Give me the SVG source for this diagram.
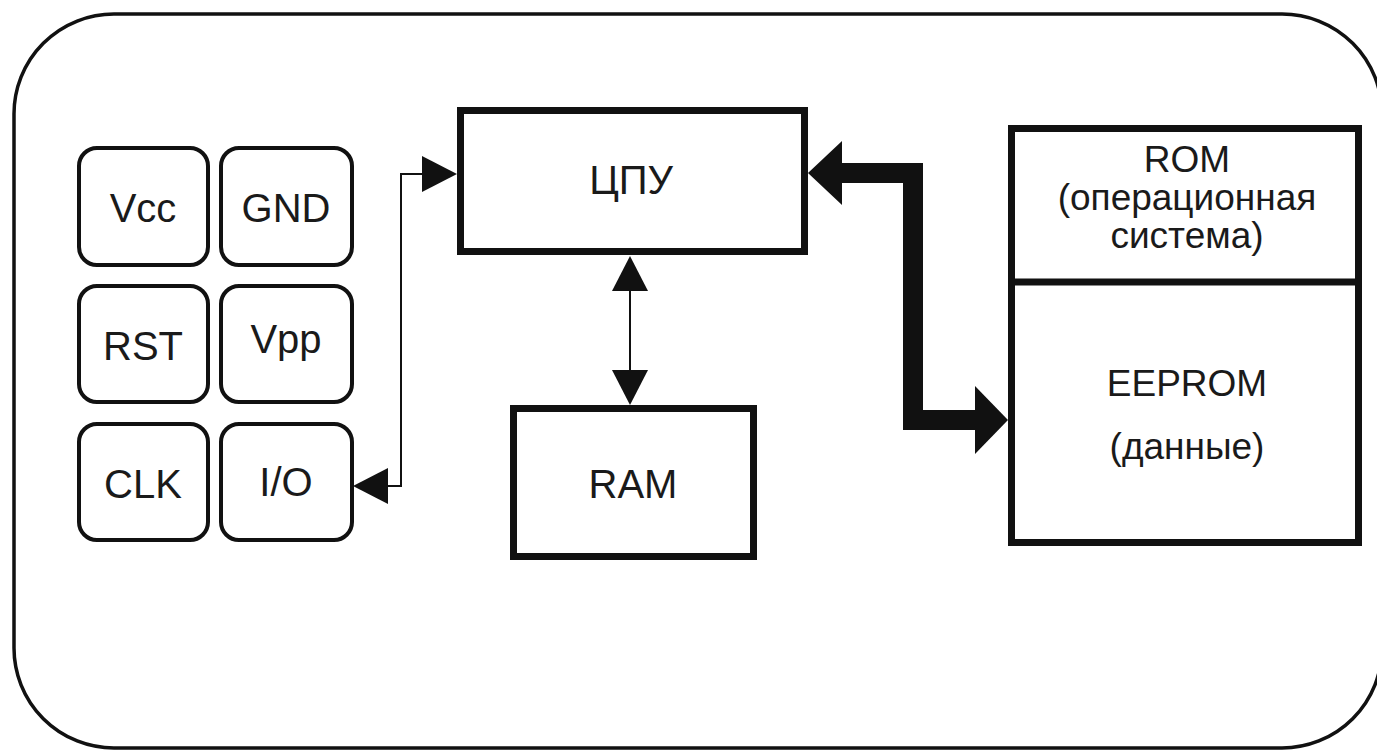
<svg xmlns="http://www.w3.org/2000/svg" width="1377" height="753" viewBox="0 0 1377 753">
<style>
text{font-family:"Liberation Sans",Arial,sans-serif;fill:#1a1a1a;text-anchor:middle}
.pin{fill:#fff;stroke:#111;stroke-width:4}
.blk{fill:#fff;stroke:#111;stroke-width:7}
.t{font-size:40px}
.s{font-size:37px}
</style>
<rect width="1377" height="753" fill="#fff"/>
<rect id="chip" x="14" y="14" width="1368" height="734" rx="100" ry="100" fill="none" stroke="#111" stroke-width="3.5"/>
<g id="vcc"><rect class="pin" x="79" y="148" width="129" height="117" rx="18"/><text class="t" x="143" y="222">Vcc</text></g>
<g id="gnd"><rect class="pin" x="221" y="148" width="131" height="117" rx="18"/><text class="t" x="286" y="222">GND</text></g>
<g id="rst"><rect class="pin" x="79" y="286" width="129" height="116" rx="18"/><text class="t" x="143" y="360">RST</text></g>
<g id="vpp"><rect class="pin" x="221" y="286" width="131" height="116" rx="18"/><text class="t" x="286" y="353">Vpp</text></g>
<g id="clk"><rect class="pin" x="79" y="424" width="129" height="116" rx="18"/><text class="t" x="143" y="498">CLK</text></g>
<g id="io"><rect class="pin" x="221" y="424" width="131" height="116" rx="18"/><text class="t" x="286" y="496">I/O</text></g>
<g id="cpu"><rect class="blk" x="460.5" y="110.5" width="344" height="141"/><text class="t" x="631" y="194">ЦПУ</text></g>
<g id="ram"><rect class="blk" x="513.5" y="408.5" width="240" height="148"/><text class="t" x="633" y="498">RAM</text></g>
<g id="mem"><rect class="blk" x="1011.5" y="128.5" width="347" height="414"/><line x1="1011" y1="282" x2="1359" y2="282" stroke="#111" stroke-width="7"/>
<text class="s" x="1187" y="172">ROM</text><text class="s" x="1187" y="210">(операционная</text><text class="s" x="1187" y="248">система)</text>
<text class="s" x="1187" y="396">EEPROM</text><text class="s" x="1187" y="459">(данные)</text></g>
<g id="connectors" fill="#111" stroke="#111">
<polyline points="424,174 401,174 401,486 388,486" fill="none" stroke-width="2"/>
<polygon points="457,174 422,156 422,192" stroke="none"/>
<polygon points="353,486 388,468 388,504" stroke="none"/>
<line x1="630" y1="285" x2="630" y2="375" stroke-width="2"/>
<polygon points="630,256 612,291 648,291" stroke="none"/>
<polygon points="630,405 612,370 648,370" stroke="none"/>
<polyline points="840,173 913,173 913,420 975,420" fill="none" stroke-width="20"/>
<polygon points="808,173 842,141 842,205" stroke="none"/>
<polygon points="1008,420 975,386 975,454" stroke="none"/>
</g>
</svg>
